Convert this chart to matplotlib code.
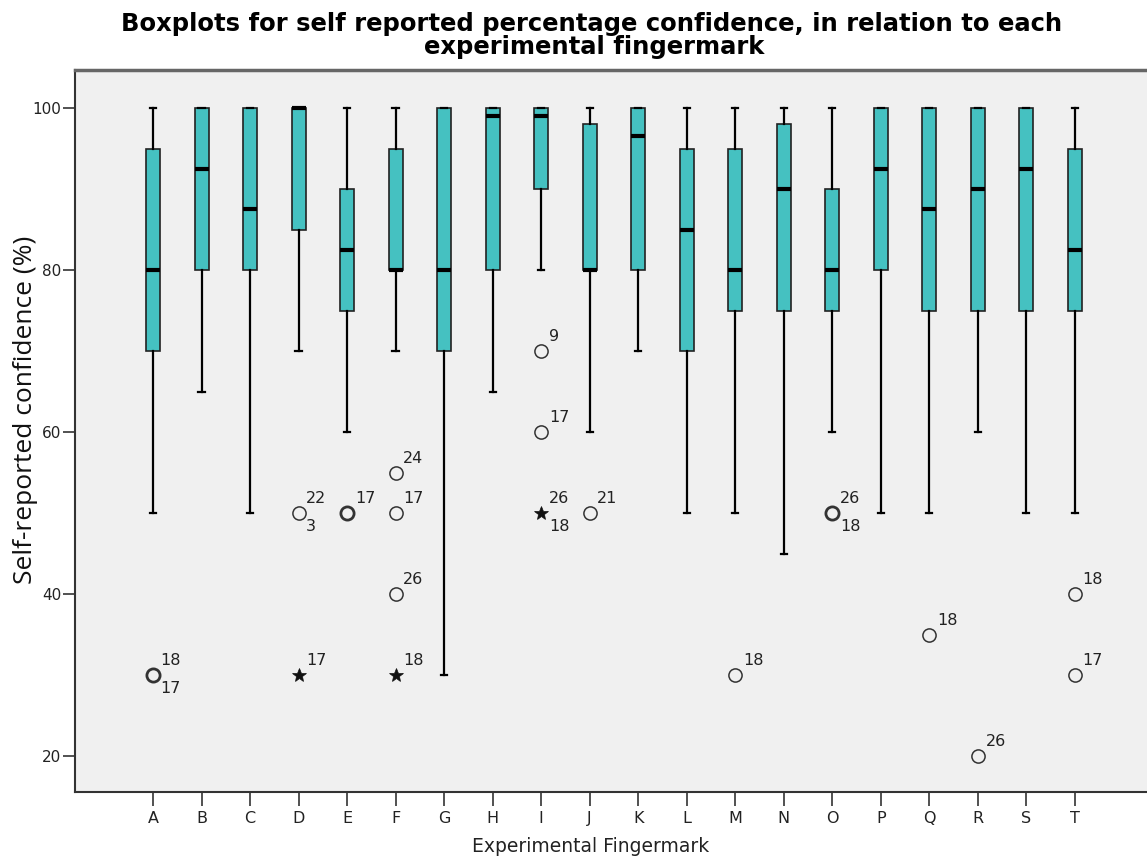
import matplotlib
matplotlib.use("Agg")
import matplotlib.pyplot as plt

# groups and box statistics (whisker low, q1, median, q3, whisker high)
groups = list("ABCDEFGHIJKLMNOPQRST")
wlo = [50, 65, 50, 70, 60, 70, 30, 65, 80, 60, 70, 50, 50, 45, 60, 50, 50, 60, 50, 50]
q1 = [70, 80, 80, 85, 75, 80, 70, 80, 90, 80, 80, 70, 75, 75, 75, 80, 75, 75, 75, 75]
med = [80, 92.5, 87.5, 100, 82.5, 80, 80, 99, 99, 80, 96.5, 85, 80, 90, 80, 92.5, 87.5, 90, 92.5, 82.5]
q3 = [95, 100, 100, 100, 90, 95, 100, 100, 100, 98, 100, 95, 95, 98, 90, 100, 100, 100, 100, 95]
whi = [100] * 20

# outliers: group, value, marker, label above-right, label below-right
out_group = ["A", "D", "D", "E", "F", "F", "F", "F", "I", "I", "I", "J", "M", "O", "Q", "R", "T", "T"]
out_value = [30, 50, 30, 50, 55, 50, 40, 30, 70, 60, 50, 50, 30, 50, 35, 20, 40, 30]
out_star = [False, False, True, False, False, False, False, True, False, False, True, False, False, False, False, False, False, False]
out_upper = ["18", "22", "17", "17", "24", "17", "26", "18", "9", "17", "26", "21", "18", "26", "18", "26", "18", "17"]
out_lower = ["17", "3", "", "", "", "", "", "", "", "", "18", "", "", "18", "", "", "", ""]
out_bold = [True, False, False, True, False, False, False, False, False, False, False, False, False, True, False, False, False, False]

fig = plt.figure(figsize=(11.47, 8.6), dpi=100)
ax = fig.add_axes([0.0654, 0.0791, 0.96, 0.8395])
ax.set_facecolor("#F0F0F0")

stats = []
for i, g in enumerate(groups):
    stats.append({"label": g, "whislo": wlo[i], "q1": q1[i], "med": med[i],
                  "q3": q3[i], "whishi": whi[i]})

pos = list(range(len(groups)))
ax.bxp(stats, positions=pos, widths=0.29, showfliers=False, patch_artist=True,
       boxprops=dict(facecolor="#45C1C1", edgecolor="#222222", linewidth=1.2),
       medianprops=dict(color="black", linewidth=3),
       whiskerprops=dict(color="black", linewidth=1.6),
       capprops=dict(color="black", linewidth=1.6), capwidths=0.13)

lab_font = dict(fontsize=11.5, family="DejaVu Sans", color="#222222")
for g, v, star, up, lo, bold in zip(out_group, out_value, out_star, out_upper, out_lower, out_bold):
    x = groups.index(g)
    if star:
        ax.plot(x, v, marker="*", ms=10, mfc="#111111", mec="#111111", mew=0.5, ls="none")
    else:
        ax.plot(x, v, marker="o", ms=9.5, mfc="none", mec="#333333",
                mew=2.0 if bold else 1.1, ls="none")
    if up:
        ax.annotate(up, (x, v), xytext=(5.5, 5), textcoords="offset points",
                    va="bottom", **lab_font)
    if lo:
        ax.annotate(lo, (x, v), xytext=(5.5, -4), textcoords="offset points",
                    va="top", **lab_font)

ax.set_xlim(-1.61, 21.09)
ax.set_ylim(15.6, 104.7)
ax.set_xticks(pos)
ax.set_xticklabels(groups, family="DejaVu Sans", fontsize=11.5, color="#222222")
ax.set_yticks([20, 40, 60, 80, 100])
ax.set_yticklabels(["20", "40", "60", "80", "100"], family="DejaVu Sans", fontsize=11, color="#222222")
ax.tick_params(axis="x", length=10, width=1.2, color="#333333", pad=4)
ax.tick_params(axis="y", length=9, width=1.2, color="#333333", pad=1)

ax.spines["right"].set_visible(False)
ax.spines["left"].set_color("#333333")
ax.spines["bottom"].set_color("#333333")
ax.spines["top"].set_color("#666666")
ax.spines["top"].set_linewidth(2.5)
ax.spines["left"].set_linewidth(1.5)
ax.spines["bottom"].set_linewidth(1.5)

ax.set_xlabel("Experimental Fingermark", family="DejaVu Sans", fontsize=13.5, color="#222222")
ax.xaxis.set_label_coords((591 - 75) / 1101, -(837 - 792) / 722)
ax.set_ylabel("Self-reported confidence (%)", family="Open Sans", fontsize=19, color="#111111")
ax.yaxis.set_label_coords((38 - 75) / 1101, (792 - 410) / 722)

fig.text(0.516, 1 - 31 / 860, "Boxplots for self reported percentage confidence, in relation to each",
         ha="center", va="baseline", family="DejaVu Sans", weight="bold", fontsize=17.5)
fig.text(0.518, 1 - 54 / 860, "experimental fingermark",
         ha="center", va="baseline", family="DejaVu Sans", weight="bold", fontsize=17.5)

fig.savefig("out.png", dpi=100)
